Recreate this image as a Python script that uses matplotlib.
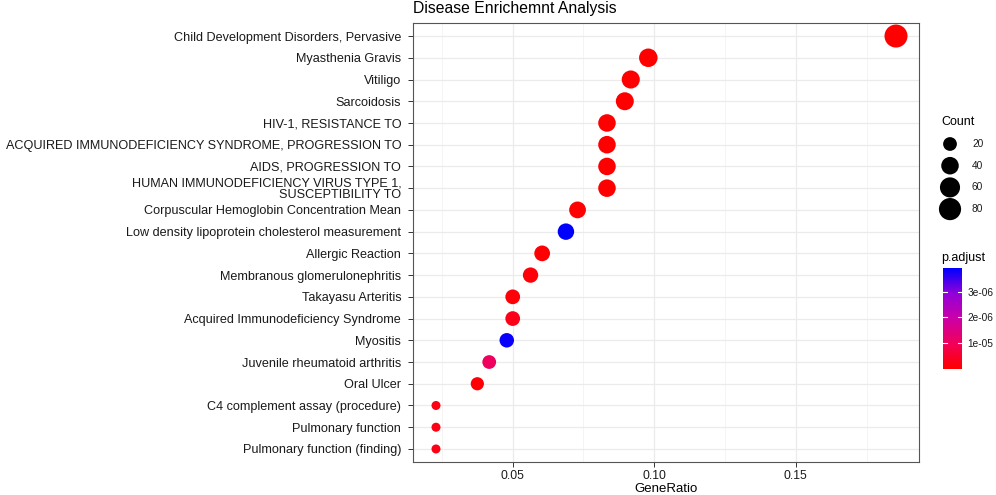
import numpy as np
import matplotlib
matplotlib.use('Agg')
import matplotlib.pyplot as plt
from matplotlib.colors import LinearSegmentedColormap, Normalize

plt.rcParams['font.family'] = ['Liberation Sans', 'DejaVu Sans']

# data, top row first
terms = [
    'Child Development Disorders, Pervasive',
    'Myasthenia Gravis',
    'Vitiligo',
    'Sarcoidosis',
    'HIV-1, RESISTANCE TO',
    'ACQUIRED IMMUNODEFICIENCY SYNDROME, PROGRESSION TO',
    'AIDS, PROGRESSION TO',
    'HUMAN IMMUNODEFICIENCY VIRUS TYPE 1,\nSUSCEPTIBILITY TO',
    'Corpuscular Hemoglobin Concentration Mean',
    'Low density lipoprotein cholesterol measurement',
    'Allergic Reaction',
    'Membranous glomerulonephritis',
    'Takayasu Arteritis',
    'Acquired Immunodeficiency Syndrome',
    'Myositis',
    'Juvenile rheumatoid arthritis',
    'Oral Ulcer',
    'C4 complement assay (procedure)',
    'Pulmonary function',
    'Pulmonary function (finding)',
]
gene_ratio = [0.1854, 0.0979, 0.0917, 0.0896, 0.0833, 0.0833, 0.0833, 0.0833,
              0.0729, 0.0688, 0.0604, 0.0563, 0.0500, 0.0500, 0.0479, 0.0417,
              0.0375, 0.0229, 0.0229, 0.0229]
counts = [89, 47, 44, 43, 40, 40, 40, 40, 35, 33, 29, 27, 24, 24, 23, 20, 18, 11, 11, 11]
p_adjust = [2e-9, 1e-8, 1e-8, 2e-8, 3e-8, 3e-8, 3e-8, 3e-8, 4e-8, 3.92e-6,
            6e-8, 8e-8, 1e-7, 2.6e-7, 3.85e-6, 1.05e-6, 6e-8, 2.2e-7, 2.2e-7, 2.2e-7]

count_breaks = [20, 40, 60, 80]
p_breaks = [1e-6, 2e-6, 3e-6]
p_labels = ['1e-05', '2e-06', '3e-06']
x_breaks = [0.05, 0.10, 0.15]
x_minor = [0.025, 0.075, 0.125, 0.175]

# red (low) -> blue (high), stops picked from the reference colour bar
cmap = LinearSegmentedColormap.from_list(
    'padj', [(0, '#ff0000'), (0.25, '#f2005a'), (0.5, '#cc00a8'),
             (0.75, '#9200da'), (1, '#0000ff')])
norm = Normalize(min(p_adjust), max(p_adjust))

# point size: area scale like ggplot (diameter in px)
cmin, cmax = min(counts), max(counts)


def marker_area(c):
    d = 9 + 14 * np.sqrt((np.asarray(c, float) - cmin) / (cmax - cmin))
    return (d * 0.72) ** 2


W, H = 996, 495
fig = plt.figure(figsize=(W / 100, H / 100), dpi=100)
L, R, T, B = 413, 919, 23, 462
ax = fig.add_axes([L / W, 1 - B / H, (R - L) / W, (B - T) / H])

n = len(terms)
ypos = np.arange(n)[::-1]
ax.scatter(gene_ratio, ypos, s=marker_area(counts), c=p_adjust, cmap=cmap, norm=norm,
           linewidths=0, zorder=3)

span = max(gene_ratio) - min(gene_ratio)
ax.set_xlim(min(gene_ratio) - 0.05 * span, max(gene_ratio) + 0.05 * span)
ax.set_ylim(-0.6, n - 0.4)
ax.set_yticks(ypos)
ax.set_yticklabels(terms, fontsize=9.1, color='#1a1a1a', linespacing=0.92)
ax.set_xticks(x_breaks)
ax.set_xticklabels(['%.2f' % v for v in x_breaks], fontsize=8.8, color='#1a1a1a')
ax.set_xticks(x_minor, minor=True)
ax.grid(True, which='major', color='#ebebeb', lw=0.9, zorder=0)
ax.grid(True, which='minor', axis='x', color='#f2f2f2', lw=0.6, zorder=0)
ax.set_axisbelow(True)
ax.tick_params(which='major', length=3.5, width=0.7, color='#333333')
ax.tick_params(axis='y', pad=5)
ax.tick_params(axis='x', pad=2)
ax.tick_params(which='minor', length=0)
for sp in ax.spines.values():
    sp.set_color('#555555')
    sp.set_linewidth(0.8)
ax.set_xlabel('GeneRatio', fontsize=9.5, labelpad=1)
fig.text(L / W, 1 - 8 / H, 'Disease Enrichemnt Analysis', fontsize=11.3, ha='left', va='center')

# size legend
lax = fig.add_axes([925 / W, 1 - 225 / H, 71 / W, 115 / H])
lax.set_xlim(925, 996)
lax.set_ylim(225, 110)
lax.axis('off')
lax.text(941, 122, 'Count', fontsize=9, ha='left', va='center')
key_y = 144 + 21.7 * np.arange(len(count_breaks))
lax.scatter([950] * len(count_breaks), key_y, s=marker_area(count_breaks), c='black', linewidths=0)
for yy, lab in zip(key_y, count_breaks):
    lax.text(972, yy, str(lab), fontsize=7.3, ha='left', va='center', color='#1a1a1a')

# colour bar
fig.text(941 / W, 1 - 258 / H, 'p.adjust', fontsize=9, ha='left', va='center')
cb_t, cb_b = 268, 369
cax = fig.add_axes([943 / W, 1 - cb_b / H, 19 / W, (cb_b - cb_t) / H])
grad = np.linspace(min(p_adjust), max(p_adjust), 200).reshape(-1, 1)
cax.imshow(grad, cmap=cmap, norm=norm, aspect='auto', origin='lower',
           extent=[0, 1, min(p_adjust), max(p_adjust)])
for pb in p_breaks:
    cax.plot([0, 0.2], [pb, pb], color='white', lw=0.8)
    cax.plot([0.8, 1], [pb, pb], color='white', lw=0.8)
cax.set_xlim(0, 1)
cax.set_ylim(min(p_adjust), max(p_adjust))
cax.set_xticks([])
cax.yaxis.tick_right()
cax.set_yticks(p_breaks)
cax.set_yticklabels(p_labels, fontsize=7.3, color='#1a1a1a')
cax.tick_params(axis='y', length=0, pad=4)
for sp in cax.spines.values():
    sp.set_visible(False)

fig.savefig('out.png', dpi=100)
